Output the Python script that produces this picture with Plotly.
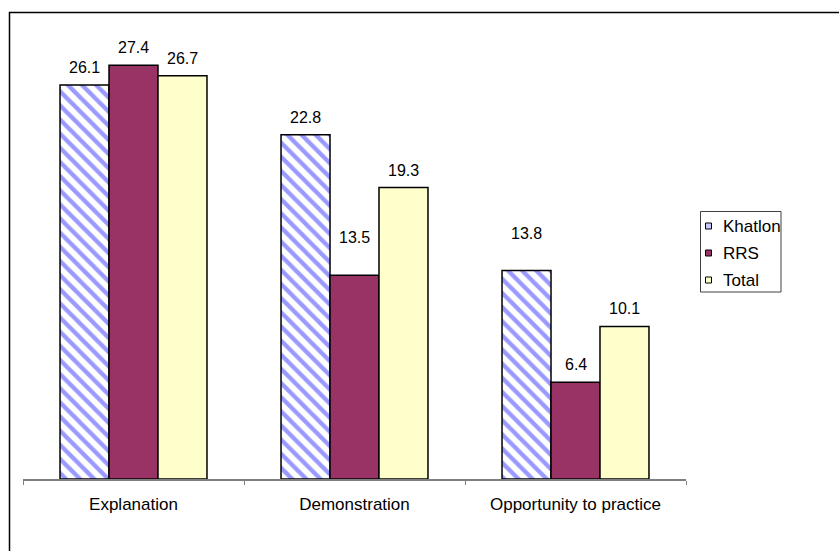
import plotly.graph_objects as go

# Teaching methods, share of responses (%)
categories = ["Explanation", "Demonstration", "Opportunity to practice"]
khatlon = [26.1, 22.8, 13.8]
rrs = [27.4, 13.5, 6.4]
total = [26.7, 19.3, 10.1]
series_names = ["Khatlon", "RRS", "Total"]

# extra lift (px) of each value label above its bar
lift_khatlon = [7, 7, 27]
lift_rrs = [7, 27, 7]
lift_total = [7, 7, 7]

FONT = "Liberation Sans, Arial, sans-serif"
W, H = 839, 551
M_L, M_R, M_T, M_B = 23, 153, 26, 72
PW, PH = W - M_L - M_R, H - M_T - M_B


def px_x(p):
    return (p - M_L) / PW


def px_y(p):
    return (H - M_B - p) / PH


fig = go.Figure()

fig.add_trace(go.Bar(
    name="Khatlon", x=categories, y=khatlon,
    marker=dict(
        color="white",
        line=dict(color="black", width=1.5),
        pattern=dict(shape="\\", fgcolor="#9999FF", bgcolor="white",
                     size=10, solidity=0.42, fillmode="replace"),
    ),
))
fig.add_trace(go.Bar(
    name="RRS", x=categories, y=rrs,
    marker=dict(color="#993366", line=dict(color="black", width=1.5)),
))
fig.add_trace(go.Bar(
    name="Total", x=categories, y=total,
    marker=dict(color="#FFFFCC", line=dict(color="black", width=1.5)),
))

# value labels above the bars
offsets = [-1, 0, 1]
bar_w = (1 - 0.335) / 3
for k, (vals, lifts) in enumerate([(khatlon, lift_khatlon), (rrs, lift_rrs), (total, lift_total)]):
    for i, (v, s) in enumerate(zip(vals, lifts)):
        fig.add_annotation(
            x=i + offsets[k] * bar_w, y=v, xref="x", yref="y",
            text=f"{v:.1f}", showarrow=False,
            yanchor="bottom", yshift=s,
            font=dict(family=FONT, size=16, color="black"),
        )

# outer frame
fig.add_shape(
    type="rect", xref="paper", yref="paper",
    xsizemode="pixel", ysizemode="pixel", xanchor=0, yanchor=1,
    x0=9.5 - M_L, x1=W, y0=-H, y1=13.5,
    line=dict(color="black", width=1.5), fillcolor="rgba(0,0,0,0)",
    layer="above",
)

# legend box with small square keys
fig.add_shape(
    type="rect", xref="paper", yref="paper",
    x0=px_x(700.5), x1=px_x(781), y0=px_y(292), y1=px_y(211.5),
    line=dict(color="#404040", width=1), fillcolor="white", layer="above",
)
key_fill = ["#C8C8FF", "#993366", "#FFFFCC"]
for j, (name, fill) in enumerate(zip(series_names, key_fill)):
    cy = 226 + 27 * j
    fig.add_shape(
        type="rect", xref="paper", yref="paper",
        x0=px_x(705.5), x1=px_x(711.5), y0=px_y(cy + 3), y1=px_y(cy - 3),
        line=dict(color="black", width=1), fillcolor=fill, layer="above",
    )
    fig.add_annotation(
        x=px_x(721), y=px_y(cy), xref="paper", yref="paper",
        xanchor="left", yanchor="middle", text=name, showarrow=False,
        font=dict(family=FONT, size=17, color="black"),
    )

fig.update_layout(
    width=W, height=H,
    margin=dict(l=M_L, r=M_R, t=M_T, b=M_B),
    paper_bgcolor="white", plot_bgcolor="white",
    barmode="group", bargap=0.335, bargroupgap=0,
    font=dict(family=FONT, size=16, color="black"),
    showlegend=False,
    xaxis=dict(
        showline=True, linecolor="#7f7f7f", linewidth=1.5,
        ticks="outside", tickson="boundaries", ticklen=4, tickcolor="#7f7f7f",
        ticklabelstandoff=9,
        tickfont=dict(family=FONT, size=17, color="black"),
        showgrid=False, zeroline=False,
    ),
    yaxis=dict(
        range=[0, 30], visible=False, showgrid=False, zeroline=False,
    ),
)

fig.write_html("out.html")
